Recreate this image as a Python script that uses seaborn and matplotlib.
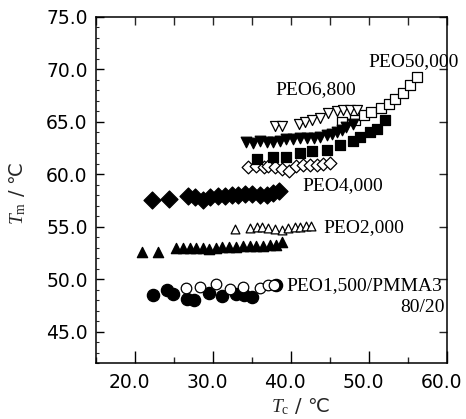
import matplotlib
matplotlib.use("Agg")
import matplotlib.pyplot as plt
from matplotlib.ticker import MultipleLocator, FormatStrFormatter
from matplotlib.transforms import ScaledTranslation
import pandas as pd
import seaborn as sns

# Melting temperature Tm versus crystallization temperature Tc
peo1500_blend_tc = [22.35, 24.1, 24.9, 26.7, 27.6, 29.5, 31.2, 33.0, 34.0, 35.0, 38.1]
peo1500_blend_tm = [48.45, 48.95, 48.6, 48.15, 48.0, 48.7, 48.35, 48.6, 48.5, 48.3, 49.45]

peo1500_tc = [26.5, 28.3, 30.4, 32.2, 33.9, 36.0, 37.1, 37.8]
peo1500_tm = [49.2, 49.25, 49.5, 49.05, 49.25, 49.2, 49.4, 49.45]

peo2000_blend_tc = [20.9, 23.0, 25.3, 26.2, 27.05, 27.8, 28.7, 29.5, 30.4, 31.2,
                    32.1, 32.9, 33.8, 34.7, 35.5, 36.4, 37.3, 38.1, 38.8]
peo2000_blend_tm = [52.6, 52.6, 53.0, 52.95, 53.0, 53.0, 52.95, 52.9, 52.95, 53.05,
                    53.1, 53.1, 53.15, 53.15, 53.2, 53.2, 53.25, 53.3, 53.5]

peo2000_tc = [32.8, 34.7, 35.6, 36.3, 37.1, 37.9, 38.8, 39.65, 40.5, 41.15, 41.9, 42.6]
peo2000_tm = [54.8, 54.9, 55.0, 55.0, 54.9, 54.75, 54.65, 54.85, 54.95, 55.0, 55.05, 55.05]

peo4000_blend_tc = [22.2, 24.3, 26.8, 27.7, 28.7, 29.6, 30.7, 31.5, 32.4, 33.2,
                    34.1, 35.0, 36.0, 36.9, 37.65, 38.4]
peo4000_blend_tm = [57.55, 57.6, 57.95, 57.85, 57.55, 57.8, 57.95, 57.95, 58.0, 58.0,
                    58.1, 58.15, 58.0, 58.05, 58.2, 58.45]

peo4000_tc = [34.5, 35.5, 36.5, 37.1, 38.0, 38.9, 39.8, 40.7, 41.6, 42.4, 43.3, 44.1, 45.0]
peo4000_tm = [60.7, 60.75, 60.7, 60.75, 60.7, 60.5, 60.35, 60.75, 60.85, 60.9, 60.85, 61.0, 61.05]

peo50000_blend_tc = [35.6, 37.7, 39.4, 41.2, 42.7, 44.6, 46.3, 48.0, 48.8, 50.1, 51.0, 52.1]
peo50000_blend_tm = [61.5, 61.6, 61.65, 62.0, 62.2, 62.35, 62.8, 63.2, 63.6, 64.0, 64.35, 65.2]

peo50000_tc = [46.6, 48.2, 49.3, 50.2, 51.5, 52.5, 53.3, 54.3, 55.2, 56.1]
peo50000_tm = [64.95, 65.2, 65.7, 65.9, 66.35, 66.75, 67.2, 67.75, 68.5, 69.3]

peo6800_blend_tc = [34.2, 35.1, 36.0, 36.9, 37.7, 38.6, 39.4, 40.3, 41.2, 42.0,
                    42.9, 43.7, 44.6, 45.2, 45.9, 46.5, 47.1, 47.9]
peo6800_blend_tm = [63.05, 63.0, 63.2, 63.1, 63.05, 63.2, 63.35, 63.4, 63.45, 63.45,
                    63.5, 63.55, 63.7, 63.85, 64.0, 64.2, 64.5, 64.8]

peo6800_tc = [38.0, 38.9, 41.0, 41.8, 42.7, 43.7, 44.8, 45.9, 46.7, 47.6, 48.4]
peo6800_tm = [64.6, 64.6, 64.8, 65.0, 65.2, 65.4, 65.8, 66.05, 66.1, 66.1, 66.15]

# Curve labels: text, Tc, Tm, horizontal alignment
curve_labels = [
    ("PEO50,000", 49.9, 70.7, "left"),
    ("PEO6,800", 37.95, 68.1, "left"),
    ("PEO4,000", 41.4, 58.9, "left"),
    ("PEO2,000", 44.1, 54.95, "left"),
    ("PEO1,500/PMMA3", 39.4, 49.4, "left"),
    ("80/20", 59.7, 47.3, "right"),
]

x_ticks = [20, 30, 40, 50, 60]
y_ticks = [45, 50, 55, 60, 65, 70, 75]

sns.set_theme(style="white")
plt.rcParams["font.family"] = ["DejaVu Sans"]
plt.rcParams["mathtext.fontset"] = "custom"
plt.rcParams["mathtext.it"] = "Liberation Serif:italic"
plt.rcParams["mathtext.rm"] = "Liberation Serif"
plt.rcParams["axes.linewidth"] = 1.1

fig = plt.figure(figsize=(4.66, 4.19), dpi=100)
fig.patch.set_facecolor("white")
ax = fig.add_axes([96 / 466, 1 - 363 / 419, (447 - 96) / 466, (363 - 17) / 419])
ax.set_facecolor("white")

series = [
    (peo1500_blend_tc, peo1500_blend_tm, "o", 78, "black"),
    (peo1500_tc, peo1500_tm, "o", 58, "white"),
    (peo2000_blend_tc, peo2000_blend_tm, "^", 55, "black"),
    (peo2000_tc, peo2000_tm, "^", 40, "white"),
    (peo4000_blend_tc, peo4000_blend_tm, "D", 75, "black"),
    (peo4000_tc, peo4000_tm, "D", 42, "white"),
    (peo50000_blend_tc, peo50000_blend_tm, "s", 55, "black"),
    (peo50000_tc, peo50000_tm, "s", 60, "white"),
    (peo6800_blend_tc, peo6800_blend_tm, "v", 58, "black"),
    (peo6800_tc, peo6800_tm, "v", 52, "white"),
]

for tc, tm, marker, size, face in series:
    df = pd.DataFrame({"Tc": tc, "Tm": tm})
    sns.scatterplot(data=df, x="Tc", y="Tm", marker=marker, s=size,
                    color=face, edgecolor="black", linewidth=0.9,
                    ax=ax, zorder=3, clip_on=False)

ax.set_xlim(15, 60)
ax.set_ylim(42, 75)
ax.set_xlabel("")
ax.set_ylabel("")

ax.xaxis.set_minor_locator(MultipleLocator(5))
ax.yaxis.set_minor_locator(MultipleLocator(1))
ax.set_xticks(x_ticks)
ax.set_yticks(y_ticks)
ax.xaxis.set_major_formatter(FormatStrFormatter("%.1f"))
ax.yaxis.set_major_formatter(FormatStrFormatter("%.1f"))

ax.tick_params(axis="x", which="major", direction="in", length=8.5, width=1.0,
               pad=7, labelsize=13.5, colors="black", bottom=True)
ax.tick_params(axis="x", which="minor", direction="in", length=4.5, width=1.0, bottom=True)
ax.tick_params(axis="y", which="major", direction="in", length=5.5, width=1.0,
               pad=6, labelsize=13.5, colors="black", left=True)
ax.tick_params(axis="y", which="minor", direction="in", length=1.8, width=0.8, left=True)

# Nudge the x tick labels slightly left so the last one stays inside the figure
shift = ScaledTranslation(-6 / 100, 0, fig.dpi_scale_trans)
for lab in ax.get_xticklabels():
    lab.set_transform(lab.get_transform() + shift)

# Unlabelled ticks on the top and right frame
top = ax.secondary_xaxis("top")
top.xaxis.set_major_locator(MultipleLocator(5))
top.tick_params(direction="in", length=5.5, width=1.0, labeltop=False, top=True)
right = ax.secondary_yaxis("right")
right.yaxis.set_major_locator(MultipleLocator(5))
right.tick_params(direction="in", length=5.5, width=1.0, labelright=False, right=True)
for sec in (top, right):
    for sp in sec.spines.values():
        sp.set_visible(False)

for sp in ax.spines.values():
    sp.set_color("black")
    sp.set_linewidth(1.1)

for text, x, y, ha in curve_labels:
    ax.text(x, y, text, ha=ha, va="center", fontsize=14,
            family=["Liberation Serif", "DejaVu Serif"], color="black",
            clip_on=False, zorder=4)

fig.text(18 / 466, 1 - 193 / 419, r"$T_{\mathrm{m}}$ / ℃", rotation=90,
         ha="center", va="center", fontsize=14, family=["DejaVu Sans"])
fig.text(300 / 466, 1 - 396 / 419, r"$T_{\mathrm{c}}$ / ℃",
         ha="center", va="top", fontsize=14, family=["DejaVu Sans"])

fig.savefig("out.png", dpi=100, facecolor="white")
